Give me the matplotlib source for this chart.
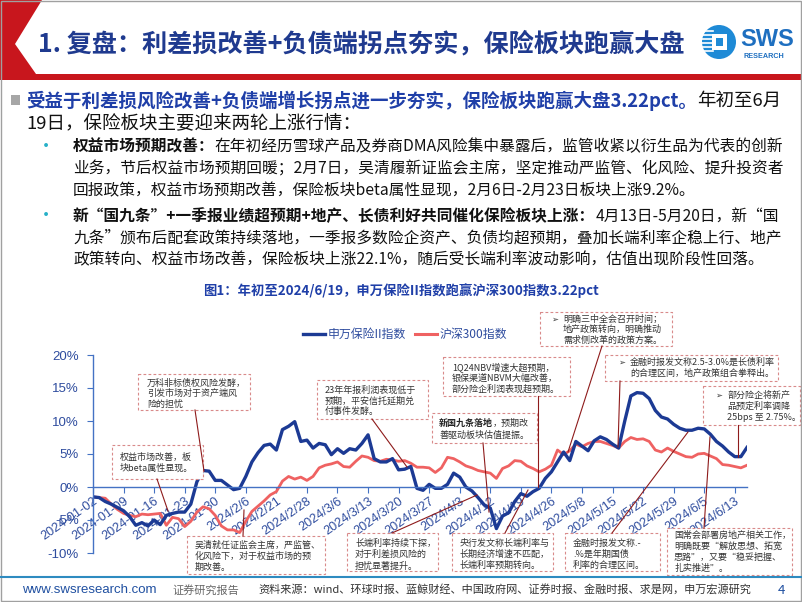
import matplotlib
matplotlib.use('Agg')
import matplotlib.pyplot as plt
from matplotlib.patches import Rectangle, Polygon, Circle
from matplotlib.ticker import FuncFormatter

FAM = ['Noto Sans CJK SC', 'DejaVu Sans']
plt.rcParams['font.family'] = FAM

# 数据：年初至今累计涨跌幅(%)，按交易日
tick_labels = ['2024-01-02', '2024-01-09', '2024-01-16', '2024-01-23', '2024-01-30',
               '2024/2/6', '2024/2/21', '2024/2/28', '2024/3/6', '2024/3/13',
               '2024/3/20', '2024/3/27', '2024/4/3', '2024/4/12', '2024/4/19',
               '2024/4/26', '2024/5/8', '2024/5/15', '2024/5/22', '2024/5/29',
               '2024/6/5', '2024/6/13']

sw_insurance = [-1.5, -1.6, -2.2, -2.6, -3.1, -3.6, -4.5, -5.8, -5.4, -5.9,
                -5.0, -5.7, -4.3, -4.0, -3.8, -3.8, -2.6, 0.8, 2.5, 2.4,
                1.0, 1.0, 0.3, -0.4, -0.2, 1.6, 3.8, 5.2, 6.3, 6.5,
                5.6, 8.7, 9.2, 9.9, 6.9, 7.1, 5.9, 6.6, 6.4, 4.9,
                5.8, 5.1, 5.8, 5.6, 6.6, 7.9, 4.3, 3.8, 3.8, 4.3,
                2.6, 2.7, 3.1, -0.2, -0.5, 0.4, -0.2, -0.2, 0.4, 2.1,
                1.5, 0.0, -0.6, -1.6, -2.7, -3.2, -6.3, -4.4, -3.9, -2.2,
                -1.0, -1.4, -0.7, -0.2, 1.3, 2.3, 3.8, 5.3, 4.0, 6.9,
                6.2, 5.5, 7.0, 7.6, 7.2, 6.5, 5.9, 10.0, 13.8, 14.3,
                14.2, 13.4, 11.6, 10.6, 10.3, 9.5, 8.9, 8.6, 8.6, 8.9,
                8.8, 8.0, 6.9, 6.2, 5.3, 4.6, 4.6, 6.0]

hs300 = [-1.5, -1.6, -1.7, -2.6, -3.4, -4.0, -4.3, -4.5, -4.1, -4.2,
         -4.1, -4.0, -5.8, -4.6, -4.8, -6.0, -5.2, -3.8, -3.0, -3.3,
         -4.3, -5.9, -6.5, -6.5, -6.9, -5.2, -3.7, -2.9, -2.1, -1.2,
         -0.7, 0.9, 1.6, 1.2, 1.5, 1.0, 1.6, 2.9, 3.3, 3.5,
         3.8, 3.1, 3.0, 3.9, 4.7, 4.5, 4.0, 3.9, 4.2, 4.1,
         3.9, 4.0, 3.6, 3.0, 3.0, 2.9, 2.2, 2.9, 4.5, 4.3,
         3.8, 3.2, 2.9, 2.5, 2.3, 2.1, 1.3, 2.8, 3.2, 4.0,
         3.9, 3.2, 2.8, 2.3, 2.7, 3.3, 5.6, 4.9, 5.5, 6.5,
         6.1, 6.6, 6.9, 6.9, 6.6, 6.3, 5.9, 6.9, 7.5, 7.2,
         7.3, 6.9, 5.6, 5.3, 5.9, 5.4, 5.0, 4.6, 4.5, 5.0,
         5.1, 4.7, 4.3, 3.4, 3.3, 3.1, 2.9, 3.3]

series_names = ['申万保险II指数', '沪深300指数']

title = '1. 复盘：利差损改善+负债端拐点夯实，保险板块跑赢大盘'
chart_title = '图1：年初至2024/6/19，申万保险II指数跑赢沪深300指数3.22pct'

body_lines = [
    [('受益于利差损风险改善+负债端增长拐点进一步夯实，保险板块跑赢大盘3.22pct。', 'hl'), ('年初至6月', 'n')],
    [('19日，保险板块主要迎来两轮上涨行情：', 'n')],
]
sub_lines = [
    [('权益市场预期改善：', 'b'), ('在年初经历雪球产品及券商DMA风险集中暴露后，监管收紧以衍生品为代表的创新', 'n')],
    [('业务，节后权益市场预期回暖；2月7日，吴清履新证监会主席，坚定推动严监管、化风险、提升投资者', 'n')],
    [('回报政策，权益市场预期改善，保险板块beta属性显现，2月6日-2月23日板块上涨9.2%。', 'n')],
    [('新“国九条”+一季报业绩超预期+地产、长债利好共同催化保险板块上涨：', 'b'), ('4月13日-5月20日，新“国', 'n')],
    [('九条”颁布后配套政策持续落地，一季报多数险企资产、负债均超预期，叠加长端利率企稳上行、地产', 'n')],
    [('政策转向、权益市场改善，保险板块上涨22.1%，随后受长端利率波动影响，估值出现阶段性回落。', 'n')],
]

footer_site = 'www.swsresearch.com'
footer_tag = '证券研究报告'
footer_src = '资料来源：wind、环球时报、蓝鲸财经、中国政府网、证券时报、金融时报、求是网，申万宏源研究'

# 注释框文字
notes = [
    ['万科非标债权风险发酵，', '引发市场对于资产端风', '险的担忧'],
    ['23年年报利润表现低于', '预期，平安信托延期兑', '付事件发酵。'],
    ['权益市场改善，板', '块beta属性显现。'],
    ['吴清就任证监会主席，严监管、', '化风险下，对于权益市场的预', '期改善。'],
    ['长端利率持续下探，', '对于利差损风险的', '担忧显著提升。'],
    ['央行发文称长端利率与', '长期经济增速不匹配，', '长端利率预期转向。'],
    ['金融时报发文称.-', '.%是年期国债', '利率的合理区间。'],
    ['国常会部署房地产相关工作，', '明确既要“解放思想、拓宽', '思路”，又要“稳妥把握、', '扎实推进”。'],
    ['新国九条落地，预期改', '善驱动板块估值提振。'],
    ['1Q24NBV增速大超预期，', '银保渠道NBVM大幅改善，', '部分险企利润表现超预期。'],
    ['明确三中全会召开时间；', '地产政策转向，明确推动', '需求侧改革的政策方案。'],
    ['金融时报发文称2.5-3.0%是长债利率', '的合理区间，地产政策组合拳释出。'],
    ['部分险企将新产', '品预定利率调降', '25bps 至 2.75%。'],
]

# 版式：框 (x0, y0, x1, y1)，文字起点 x，首行 y，行距，是否带箭头符号
note_layout = [
    (138, 374, 250, 410, 147, 383, 10.8, False),
    (317, 380, 428, 419, 325, 390, 10.6, False),
    (112, 445, 203, 479, 120, 457, 11.5, False),
    (187, 536, 325, 574, 195, 545, 11.2, False),
    (347, 533, 438, 571, 355, 543, 11.5, False),
    (452, 533, 553, 571, 460, 543, 11.2, False),
    (565, 533, 660, 571, 573, 543, 11.2, False),
    (667, 528, 792, 575, 674, 535, 11.0, False),
    (432, 413, 537, 443, 439, 423, 12.0, False),
    (443, 357, 570, 396, 452, 367, 11.0, False),
    (540, 312, 672, 346, 563, 319, 10.6, True),
    (605, 355, 778, 381, 630, 362, 11.5, True),
    (703, 386, 800, 425, 727, 395, 11.5, True),
]

leaders = [
    (195, 410, 204, 471), (157, 479, 168, 511), (244, 510, 243, 536),
    (372, 419, 407, 467), (392, 533, 477, 495), (483, 443, 489, 512),
    (505, 533, 528, 490), (538, 396, 538, 487), (602, 346, 568, 452),
    (620, 381, 618, 447), (612, 533, 688, 432), (704, 528, 710, 437),
    (738, 425, 738, 457),
]

W, H = 802, 602
fig = plt.figure(figsize=(W / 100, H / 100), dpi=100)
fig.patch.set_facecolor('white')

NAVY = '#1C3A94'
RED = '#EF6262'
AXBLUE = '#4472C4'
LBLUE = '#2E4C9E'

# 折线图
ax = fig.add_axes([93 / W, 49 / H, 654 / W, 198 / H])
ax.patch.set_alpha(0)
idx = list(range(len(sw_insurance)))
ax.plot(idx, hs300, color=RED, lw=2.0, solid_joinstyle='round')
ax.plot(idx, sw_insurance, color=NAVY, lw=2.4, solid_joinstyle='round')
ax.set_xlim(0, 107)
ax.set_ylim(-10, 20)
ax.set_yticks([-10, -5, 0, 5, 10, 15, 20])
ax.yaxis.set_major_formatter(FuncFormatter(lambda v, p: f'{v:.0f}%'))
ax.set_xticks(list(range(0, 5 * len(tick_labels), 5)))
ax.set_xticklabels(tick_labels)
ax.spines['top'].set_visible(False)
ax.spines['right'].set_visible(False)
ax.spines['bottom'].set_position(('data', 0))
for s in ('left', 'bottom'):
    ax.spines[s].set_color(AXBLUE)
    ax.spines[s].set_linewidth(1.0)
ax.tick_params(axis='both', colors=AXBLUE, labelcolor=LBLUE, length=4, width=0.8)
ax.tick_params(axis='y', pad=6)
ax.tick_params(axis='x', pad=2)
for lab in ax.get_xticklabels():
    lab.set_rotation(35)
    lab.set_ha('right')
    lab.set_va('top')
    lab.set_rotation_mode('anchor')
    lab.set_fontsize(9.2)
    lab.set_family(['Liberation Sans'])
for lab in ax.get_yticklabels():
    lab.set_fontsize(9.5)
    lab.set_family(['Liberation Sans'])

# 覆盖层（像素坐标）
ov = fig.add_axes([0, 0, 1, 1])
ov.set_xlim(0, W)
ov.set_ylim(H, 0)
ov.axis('off')
ov.patch.set_alpha(0)
renderer = fig.canvas.get_renderer()

# 页眉
ov.add_patch(Polygon([(0, 0), (42, 0), (15, 44), (36, 74), (W, 74), (W, 80), (0, 80)],
                     closed=True, facecolor='#C8161D', edgecolor='none'))
ov.text(38, 44, title, fontsize=18.1, color='#1F3A8F', fontweight='bold',
        va='center', ha='left')
ov.add_patch(Circle((719, 42), 17, facecolor='#1E8AD6', edgecolor='none'))
for yy in (31, 35, 39, 43, 47, 51):
    ov.plot([701, 713], [yy, yy], color='white', lw=1.2)
ov.add_patch(Rectangle((712, 34), 15, 16, facecolor='white', edgecolor='none'))
ov.add_patch(Rectangle((716, 38), 7, 8, facecolor='#1E8AD6', edgecolor='none'))
ov.text(740, 40, 'SWS', fontsize=17, fontweight='bold', color='#1E6FC0',
        family=['Liberation Sans'], va='center', ha='left')
ov.text(743, 56, 'RESEARCH', fontsize=5.2, fontweight='bold', color='#1E6FC0',
        family=['Liberation Sans'], va='center', ha='left')


def draw_parts(x, y, parts, size, styles):
    for txt, st in parts:
        color, weight = styles[st]
        t = ov.text(x, y, txt, fontsize=size, color=color, fontweight=weight,
                    va='center', ha='left')
        x += t.get_window_extent(renderer).width


main_styles = {'hl': ('#1F3FA8', 'bold'), 'n': ('#111111', 'normal'), 'b': ('#111111', 'bold')}

# 正文
ov.add_patch(Rectangle((11, 95), 9, 10, facecolor='#A6A6A6', edgecolor='none'))
for parts, yy in zip(body_lines, (101, 124)):
    draw_parts(26, yy, parts, 13.3, main_styles)
for yy in (147, 216):
    ov.text(46, yy, '•', fontsize=13, color='#27B0C8', va='center', ha='center')
for parts, yy in zip(sub_lines, (147, 169, 191, 216, 238, 260)):
    draw_parts(73, yy, parts, 11.3, main_styles)

# 图标题与图例
ov.text(401, 291, chart_title, fontsize=9.6, fontweight='bold', color='#1F3FA8',
        va='center', ha='center')
ov.plot([303, 325], [334, 334], color=NAVY, lw=2.4)
ov.text(328, 334, series_names[0], fontsize=8.6, color=LBLUE, va='center', ha='left')
ov.plot([415, 437], [334, 334], color=RED, lw=2.2)
ov.text(440, 334, series_names[1], fontsize=8.6, color=LBLUE, va='center', ha='left')

# 引线
for x0, y0, x1, y1 in leaders:
    ov.plot([x0, x1], [y0, y1], color='#8E1B1B', lw=0.8)

# 注释框
NOTE_FS = 6.5
for lines, (x0, y0, x1, y1, tx, ty, gap, arrow) in zip(notes, note_layout):
    ov.add_patch(Rectangle((x0, y0), x1 - x0, y1 - y0, facecolor='white',
                           edgecolor='#D98A8A', lw=0.8, linestyle=(0, (2.5, 2))))
    if arrow:
        ov.text(tx - 12, ty, '➢', fontsize=6.0, color='#333333', va='center',
                ha='left', family=['DejaVu Sans'])
    for k, ln in enumerate(lines):
        yy = ty + k * gap
        if ln.startswith('新国九条落地'):
            draw_parts(tx, yy, [('新国九条落地', 'b'), (ln[6:], 'n')], NOTE_FS,
                       {'b': ('#222222', 'bold'), 'n': ('#333333', 'normal')})
        else:
            ov.text(tx, yy, ln, fontsize=NOTE_FS, color='#333333', va='center', ha='left')

# 页脚
ov.plot([0, W], [577, 577], color='#2E8BC0', lw=1.5)
ov.text(22, 590, footer_site, fontsize=9.5, color='#1F4FA0', va='center', ha='left',
        family=['Liberation Sans'])
ov.text(172, 590, footer_tag, fontsize=8.0, color='#666666', va='center', ha='left')
ov.text(258, 590, footer_src, fontsize=8.0, color='#333333', va='center', ha='left')
ov.text(778, 590, '4', fontsize=9.5, color='#1F4FA0', va='center', ha='left')

# 边框
ov.add_patch(Rectangle((0.5, 0.5), W - 1.5, H - 1.5, facecolor='none',
                       edgecolor='#A0A0A0', lw=1))

fig.savefig('out.png', dpi=100)
